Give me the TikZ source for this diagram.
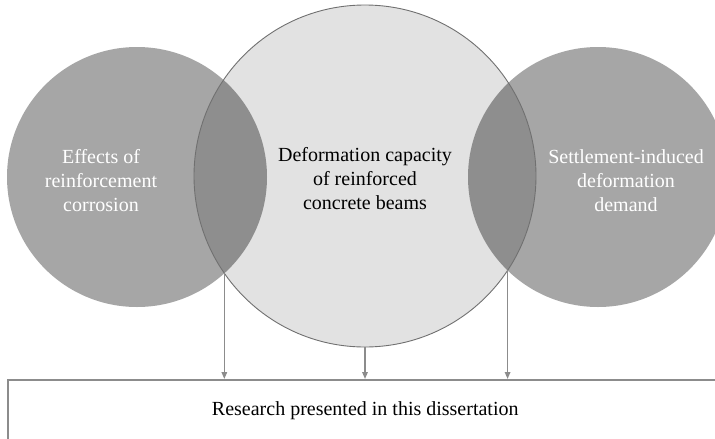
\documentclass[tikz,border=0pt]{standalone}
\usepackage{fontspec}
\setmainfont{Liberation Serif}
\usetikzlibrary{arrows.meta,intersections}
\definecolor{sidegray}{HTML}{A6A6A6}
\definecolor{coregray}{HTML}{E2E2E2}
\definecolor{overgray}{HTML}{8E8E8E}
\definecolor{rimgray}{HTML}{707070}
\definecolor{linkgray}{HTML}{8C8C8C}
\begin{document}
\begin{tikzpicture}[x=1pt,y=-1pt,
  sidecirc/.style={circle, fill=sidegray, minimum size=260pt, inner sep=0pt},
  corecirc/.style={circle, fill=coregray, minimum size=342pt, inner sep=0pt},
  circtext/.style={align=center, font=\fontsize{20}{24}\selectfont, inner sep=0pt},
  link/.style={draw=linkgray, line width=1.5pt, -{Triangle[length=7pt,width=5.5pt]}},
  ]
\useasboundingbox (0,0) rectangle (715,439);

% the three circles
\node[sidecirc] (L) at (137,177) {};
\node[sidecirc] (R) at (598,177) {};
\node[corecirc] (C) at (365,176) {};

% darker lens where the side circles meet the central one
\begin{scope}
  \clip (C.center) circle (171pt);
  \fill[overgray] (L.center) circle (130pt);
  \fill[overgray] (R.center) circle (130pt);
\end{scope}
\draw[rimgray, line width=0.9pt] (C.center) circle (171pt);

% lower crossing points of the circle rims
\path[name path=pL] (L.center) circle (130pt);
\path[name path=pR] (R.center) circle (130pt);
\path[name path=pC] (C.center) circle (171pt);
\path[name intersections={of=pL and pC, by={xLa,xLb}}];
\path[name intersections={of=pR and pC, by={xRa,xRb}}];

% labels
\node[circtext, text=white] (tL) at (101,181) {Effects of\\reinforcement\\corrosion};
\node[circtext, text=black] (tC) at (365,179) {Deformation capacity\\of reinforced\\concrete beams};
\node[circtext, text=white] (tR) at (626,181) {Settlement-induced\\deformation\\demand};

% bottom box
\node[draw=linkgray, line width=1.5pt, minimum width=715pt, minimum height=62pt,
      anchor=north west, inner sep=0pt, font=\fontsize{20}{24}\selectfont]
      (res) at (7,379) {Research presented in this dissertation};

% connectors
\draw[link] (xLb) -- (xLb |- res.north);
\draw[link] (C.south) -- (C.south |- res.north);
\draw[link] (xRb) -- (xRb |- res.north);
\end{tikzpicture}
\end{document}
